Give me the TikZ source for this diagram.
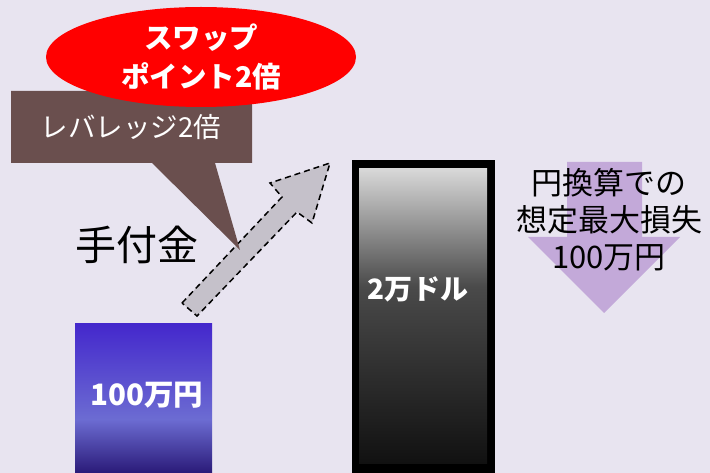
\documentclass[tikz,border=0pt]{standalone}
\usepackage{fontspec}
\setmainfont{Noto Sans CJK JP}
\usetikzlibrary{shapes.geometric}
\definecolor{bg}{HTML}{E8E4F0}
\definecolor{swapred}{HTML}{FF0000}
\definecolor{calloutbrown}{HTML}{6A4F4E}
\definecolor{arrowgray}{HTML}{C5C1CA}
\definecolor{lossviolet}{HTML}{C3A9D9}
\definecolor{bA}{HTML}{4428CC}
\definecolor{bB}{HTML}{6C6CD2}
\definecolor{bC}{HTML}{2A1A78}
\definecolor{gA}{HTML}{D8D8D8}
\definecolor{gB}{HTML}{4A4A4A}
\definecolor{gC}{HTML}{111111}
\pgfdeclareverticalshading{yenshade}{100bp}{color(0bp)=(bC); color(25bp)=(bC); color(43bp)=(bB); color(75bp)=(bA); color(100bp)=(bA)}
\pgfdeclareverticalshading{dollarshade}{100bp}{color(0bp)=(gC); color(25bp)=(gC); color(55bp)=(gB); color(75bp)=(gA); color(100bp)=(gA)}
\tikzset{
  whitebold/.style={text=white, font=\fontsize{28.5}{39}\selectfont\bfseries, align=center},
  blacktext/.style={text=black, align=center},
}
\begin{document}
\begin{tikzpicture}[x=1pt,y=-1pt]
\fill[bg] (0,0) rectangle (710,473);
\useasboundingbox (0,0) rectangle (710,473);

% gray dashed arrow
\draw[fill=arrowgray, draw=black, line width=1.5pt, dash pattern=on 6pt off 4pt, line join=miter]
  (182,303) -- (282,197) -- (270,183) -- (330,163) -- (312,223) -- (297,212) -- (197,316) -- cycle;

% callout
\fill[calloutbrown] (11,91) -- (252,91) -- (252,163) -- (215,163) -- (240,250) -- (152,163) -- (11,163) -- cycle;
\node[text=white, font=\fontsize{27.5}{30}\selectfont] (lev) at (131,127) {レバレッジ2倍};

% red ellipse
\node[ellipse, fill=swapred, minimum width=310pt, minimum height=100pt, inner sep=0pt, whitebold] (swap) at (201,57) {スワップ\\ポイント2倍};

% hand money
\node[blacktext, font=\fontsize{41}{44}\selectfont] (tetsuke) at (137,245) {手付金};

% yen box
\node[rectangle, shading=yenshade, minimum width=137pt, minimum height=149pt, inner sep=0pt] (yen) at (143.5,398.5) {};
\node[text=white, font=\fontsize{29.5}{32}\selectfont\bfseries] (yentext) at (147,395) {100万円};

% dollar bar
\node[rectangle, fill=black, minimum width=143pt, minimum height=312pt, inner sep=0pt] (dollarframe) at (423.5,316.5) {};
\node[rectangle, shading=dollarshade, minimum width=128pt, minimum height=294pt, inner sep=0pt] (dollar) at (423,316) {};
\node[text=white, font=\fontsize{28}{32}\selectfont\bfseries] (dollartext) at (418,289) {2万ドル};

% violet loss arrow
\fill[lossviolet] (567,162) -- (642,162) -- (642,237) -- (680,237) -- (604,313) -- (528,237) -- (567,237) -- cycle;
\node[blacktext, font=\fontsize{31}{37}\selectfont] (loss) at (609,220) {円換算での\\想定最大損失\\100万円};
\end{tikzpicture}
\end{document}
